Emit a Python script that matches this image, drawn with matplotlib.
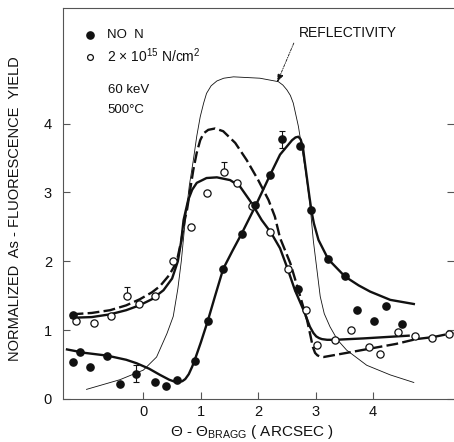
from __future__ import annotations

import matplotlib

matplotlib.use("Agg")
import matplotlib.pyplot as plt


# measured points, NO N (filled)
NO_N_X = [-1.23, -1.22, -1.11, -0.93, -0.63, -0.41, -0.13, 0.20, 0.40, 0.58,
          0.90, 1.12, 1.39, 1.71, 1.95, 2.21, 2.42, 2.73, 2.92, 2.70,
          3.22, 3.51, 3.72, 4.02, 4.22, 4.50]
NO_N_Y = [1.22, 0.54, 0.69, 0.46, 0.63, 0.22, 0.36, 0.24, 0.19, 0.27,
          0.55, 1.13, 1.89, 2.39, 2.82, 3.25, 3.77, 3.68, 2.74, 1.60,
          2.03, 1.78, 1.29, 1.13, 1.35, 1.09]

# measured points, 2x10^15 N/cm^2 (open)
DOSE_X = [-1.18, -0.86, -0.56, -0.28, -0.07, 0.21, 0.52, 0.83, 1.11, 1.41,
          1.63, 1.90, 2.21, 2.52, 2.83, 3.03, 3.33, 3.61, 3.93, 4.12,
          4.43, 4.73, 5.03, 5.32]
DOSE_Y = [1.14, 1.10, 1.20, 1.50, 1.38, 1.50, 2.01, 2.50, 2.99, 3.30,
          3.14, 2.81, 2.43, 1.89, 1.29, 0.78, 0.85, 1.00, 0.76, 0.65,
          0.97, 0.92, 0.89, 0.95]

# error bars (x, y, lower, upper)
ERR_FILLED = [(-0.13, 0.36, 0.11, 0.13), (2.42, 3.77, 0.13, 0.13)]
ERR_OPEN = [(-0.28, 1.50, 0.0, 0.12), (1.41, 3.30, 0.0, 0.15)]

# fitted curve through NO N points (solid)
FIT_NO_N_X = [-1.33, -1.02, -0.63, -0.30, -0.12, 0.10, 0.29, 0.45, 0.55, 0.62,
              0.68, 0.73, 0.79, 0.85, 0.90, 1.00, 1.12, 1.25, 1.39, 1.55,
              1.71, 1.95, 2.08, 2.21, 2.38, 2.50, 2.59, 2.65, 2.70, 2.74,
              2.78, 2.81, 2.85, 2.89, 2.93, 2.97, 3.05, 3.22, 3.51, 3.75,
              3.95, 4.30, 4.71]
FIT_NO_N_Y = [0.72, 0.67, 0.63, 0.57, 0.52, 0.44, 0.35, 0.28, 0.25, 0.245,
              0.26, 0.29, 0.36, 0.47, 0.58, 0.82, 1.13, 1.50, 1.89, 2.15,
              2.40, 2.80, 3.03, 3.26, 3.55, 3.67, 3.76, 3.80, 3.81, 3.77,
              3.65, 3.45, 3.20, 2.95, 2.72, 2.55, 2.31, 2.03, 1.78, 1.65,
              1.56, 1.44, 1.38]

# 2x10^15 curve, dashed
FIT_DASH_X = [-1.25, -0.90, -0.58, -0.30, -0.06, 0.15, 0.29, 0.45, 0.58, 0.66,
              0.72, 0.76, 0.87, 0.93, 0.99, 1.05, 1.13, 1.25, 1.39, 1.60,
              1.80, 2.00, 2.18, 2.29, 2.38, 2.56, 2.70, 2.85, 2.91, 2.95,
              2.99, 3.03, 3.08, 3.14, 3.54, 4.00, 4.40, 4.75, 5.05, 5.40]
FIT_DASH_Y = [1.23, 1.25, 1.29, 1.36, 1.45, 1.55, 1.64, 1.80, 1.99, 2.30,
              2.60, 2.75, 3.33, 3.58, 3.76, 3.86, 3.91, 3.93, 3.89, 3.72,
              3.47, 3.18, 2.89, 2.65, 2.34, 1.97, 1.58, 1.15, 0.92, 0.76,
              0.67, 0.635, 0.615, 0.61, 0.67, 0.74, 0.80, 0.87, 0.90, 0.96]

# 2x10^15 curve, solid
FIT_SOLID_X = [-1.25, -0.90, -0.58, -0.30, -0.07, 0.15, 0.35, 0.50, 0.60, 0.66,
               0.70, 0.78, 0.85, 0.93, 1.10, 1.28, 1.51, 1.68, 1.89, 2.06,
               2.22, 2.38, 2.50, 2.64, 2.79, 2.90, 2.96, 3.01, 3.06, 3.11,
               3.20, 3.34, 3.83, 4.62]
FIT_SOLID_Y = [1.18, 1.19, 1.23, 1.29, 1.36, 1.45, 1.58, 1.75, 2.00, 2.30,
               2.60, 2.89, 3.04, 3.14, 3.21, 3.22, 3.18, 3.09, 2.84, 2.60,
               2.42, 2.19, 1.92, 1.58, 1.29, 1.05, 0.96, 0.91, 0.885, 0.87,
               0.86, 0.86, 0.88, 0.92]

# reflectivity (thin)
REFL_X = [-0.99, -0.41, 0.00, 0.23, 0.41, 0.52, 0.60, 0.66, 0.73, 0.80,
          0.87, 0.93, 0.99, 1.05, 1.10, 1.18, 1.28, 1.40, 1.57, 2.03,
          2.35, 2.43, 2.50, 2.56, 2.61, 2.70, 2.82, 2.90, 2.96, 3.08,
          3.15, 3.25, 3.38, 3.54, 3.89, 4.30, 4.71]
REFL_Y = [0.14, 0.28, 0.42, 0.61, 0.95, 1.20, 1.60, 2.00, 2.60, 3.10,
          3.47, 3.82, 4.10, 4.30, 4.44, 4.55, 4.62, 4.66, 4.68, 4.66,
          4.61, 4.56, 4.49, 4.41, 4.30, 3.96, 3.33, 2.84, 2.30, 1.49,
          1.24, 1.05, 0.86, 0.71, 0.49, 0.35, 0.24]

X_TICKS = [0, 1, 2, 3, 4]
Y_TICKS = [0, 1, 2, 3, 4]

X_LABEL = "Θ - Θ$_{\\mathrm{BRAGG}}$ ( ARCSEC )"
Y_LABEL = "NORMALIZED  As - FLUORESCENCE  YIELD"
LEGEND_FILLED = "NO  N"
LEGEND_OPEN = "2 × 10$^{15}$ N/cm$^{2}$"
ENERGY_TEXT = "60 keV"
TEMP_TEXT = "500°C"
REFL_TEXT = "REFLECTIVITY"

INK = "#111111"
THICK = 1.7
THIN = 0.6


def draw_curves(ax) -> None:
    ax.plot(REFL_X, REFL_Y, color=INK, lw=THIN, zorder=2)
    ax.plot(FIT_DASH_X, FIT_DASH_Y, color=INK, lw=THICK, dashes=(5, 1.8),
            zorder=3)
    ax.plot(FIT_SOLID_X, FIT_SOLID_Y, color=INK, lw=THICK, zorder=3)
    ax.plot(FIT_NO_N_X, FIT_NO_N_Y, color=INK, lw=THICK, zorder=3)


def draw_points(ax) -> None:
    for x, y, lo, hi in ERR_FILLED + ERR_OPEN:
        ax.errorbar([x], [y], yerr=[[lo], [hi]], fmt="none", ecolor=INK,
                    elinewidth=0.8, capsize=2.5, capthick=0.8, zorder=4)

    ax.plot(DOSE_X, DOSE_Y, "o", ms=5.2, mfc="white", mec=INK, mew=0.9,
            ls="none", zorder=5)
    ax.plot(NO_N_X, NO_N_Y, "o", ms=5.2, mfc=INK, mec=INK, ls="none",
            zorder=6)


def draw_text(ax) -> None:
    ax.plot([-0.93], [5.29], "o", ms=5.2, mfc=INK, mec=INK, clip_on=False)
    ax.plot([-0.93], [4.97], "o", ms=4.2, mfc="white", mec=INK, mew=0.9,
            clip_on=False)
    ax.text(-0.64, 5.29, LEGEND_FILLED, fontsize=9.5, va="center", color=INK)
    ax.text(-0.64, 4.98, LEGEND_OPEN, fontsize=10, va="center", color=INK)
    ax.text(-0.62, 4.49, ENERGY_TEXT, fontsize=9.5, va="center", color=INK)
    ax.text(-0.62, 4.20, TEMP_TEXT, fontsize=9.5, va="center", color=INK)

    ax.text(3.56, 5.32, REFL_TEXT, fontsize=10, ha="center", va="center",
            color=INK)
    ax.annotate("", xy=(2.33, 4.60), xytext=(2.62, 5.17),
                arrowprops=dict(arrowstyle="-|>,head_length=0.5,head_width=0.18",
                                color=INK, lw=0.6, linestyle=(0, (3, 1.5, 1, 1.5)),
                                shrinkA=0, shrinkB=0))


def style_axes(ax) -> None:
    ax.set_xlim(-1.40, 5.41)
    ax.set_ylim(0, 5.68)
    ax.set_xticks(X_TICKS)
    ax.set_yticks(Y_TICKS)

    ax.spines["right"].set_visible(False)
    for side in ("left", "bottom", "top"):
        ax.spines[side].set_color("#555555")
        ax.spines[side].set_linewidth(0.8)

    ax.tick_params(axis="both", direction="in", length=5, width=0.8,
                   color="#555555", labelsize=10.5, labelcolor=INK)
    ax.tick_params(axis="y", right=True, pad=8)
    ax.tick_params(axis="x", pad=4)

    ax.set_xlabel(X_LABEL, fontsize=11, color=INK)
    ax.set_ylabel(Y_LABEL, fontsize=10.5, color=INK)
    ax.xaxis.set_label_coords(0.482, -0.062)
    ax.yaxis.set_label_coords(-0.105, 0.488)


def main() -> None:
    plt.rcParams["font.family"] = ["Liberation Sans", "DejaVu Sans"]
    plt.rcParams["mathtext.fontset"] = "custom"
    plt.rcParams["mathtext.rm"] = "Liberation Sans"
    plt.rcParams["mathtext.it"] = "Liberation Sans:italic"

    fig = plt.figure(figsize=(4.54, 4.42), dpi=100)
    ax = fig.add_axes([63 / 454, 43 / 442, 391 / 454, 391 / 442])

    draw_curves(ax)
    draw_points(ax)
    draw_text(ax)
    style_axes(ax)

    fig.savefig("out.png", dpi=100)
    plt.close(fig)


if __name__ == "__main__":
    main()
